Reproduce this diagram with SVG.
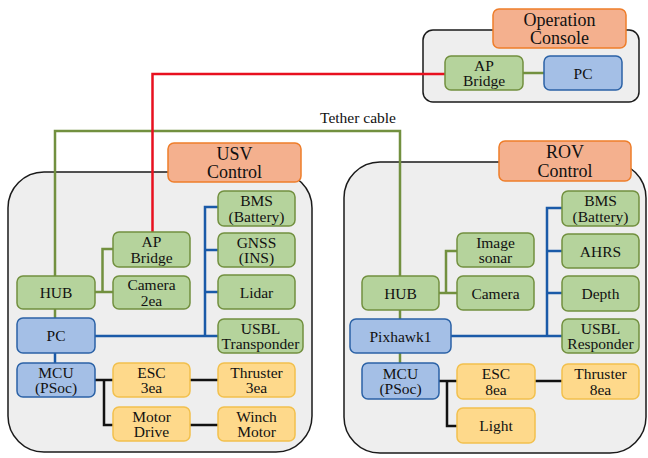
<svg xmlns="http://www.w3.org/2000/svg" width="648" height="458" viewBox="0 0 648 458">
  <style>
    .box { fill: #eeeeee; stroke: #1a1a1a; stroke-width: 1.5; }
    .title { fill: #f4b08e; stroke: #ee7d2a; stroke-width: 1.5; }
    .g { fill: #b5d39c; stroke: #72903f; stroke-width: 1.5; }
    .b { fill: #a4bfe6; stroke: #2b62a6; stroke-width: 1.5; }
    .y { fill: #fed98b; stroke: #f2c04d; stroke-width: 1.5; }
    text { font-family: "Liberation Serif", "Times New Roman", serif; font-size: 15.5px; fill: #111; text-anchor: middle; }
    .tt { font-size: 18px; }
    .cg { fill: none; stroke: #72903f; stroke-width: 2.5; }
    .cb { fill: none; stroke: #1a5aa8; stroke-width: 2.5; }
    .ck { fill: none; stroke: #111; stroke-width: 2.5; }
    .cr { fill: none; stroke: #e8101f; stroke-width: 2.5; }
  </style>

  <!-- containers -->
  <g id="console-area"><rect class="box" x="423" y="30" width="216" height="72" rx="10"/></g>
  <g id="usv-area"><rect class="box" x="8" y="172" width="304" height="280" rx="36"/></g>
  <g id="rov-area"><rect class="box" x="344" y="162" width="302" height="291" rx="36"/></g>

  <!-- connectors -->
  <g id="connectors">
    <!-- tether cable -->
    <polyline class="cg" points="55,276 55,131 400,131 400,276"/>
    <!-- wireless AP link -->
    <polyline class="cr" points="445,74 152.5,74 152.5,232"/>
    <!-- console -->
    <line class="cg" x1="523" y1="73" x2="544" y2="73"/>
    <!-- USV -->
    <line class="cg" x1="55" y1="309" x2="55" y2="318"/>
    <line class="cb" x1="55" y1="353" x2="55" y2="363"/>
    <line class="cg" x1="95" y1="292" x2="113" y2="292"/>
    <polyline class="cg" points="113,249 102.5,249 102.5,292"/>
    <polyline class="cb" points="95,336 218,336"/>
    <polyline class="cb" points="218,207 205,207 205,336"/>
    <line class="cb" x1="205" y1="250" x2="218" y2="250"/>
    <line class="cb" x1="205" y1="292" x2="218" y2="292"/>
    <line class="ck" x1="95" y1="380" x2="113" y2="380"/>
    <polyline class="ck" points="104,380 104,425 113,425"/>
    <line class="ck" x1="190" y1="380" x2="218" y2="380"/>
    <line class="ck" x1="190" y1="425" x2="218" y2="425"/>
    <!-- ROV -->
    <line class="cg" x1="400" y1="310" x2="400" y2="319"/>
    <line class="cg" x1="400" y1="353" x2="400" y2="363"/>
    <line class="cg" x1="439" y1="293" x2="457" y2="293"/>
    <polyline class="cg" points="457,251 446,251 446,293"/>
    <polyline class="cb" points="451,336 562,336"/>
    <polyline class="cb" points="562,208 547,208 547,336"/>
    <line class="cb" x1="547" y1="251" x2="562" y2="251"/>
    <line class="cb" x1="547" y1="293" x2="562" y2="293"/>
    <line class="ck" x1="439" y1="381" x2="457" y2="381"/>
    <polyline class="ck" points="447,381 447,426 457,426"/>
    <line class="ck" x1="535" y1="381" x2="562" y2="381"/>
  </g>

  <text x="358" y="123">Tether cable</text>

  <!-- operation console -->
  <g id="console-title"><rect class="title" x="493" y="9" width="133" height="39" rx="6"/>
    <text class="tt" x="559.5" y="25.8">Operation</text><text class="tt" x="559.5" y="44.3">Console</text></g>
  <g id="console-ap"><rect class="g" x="445" y="56" width="78" height="34" rx="6"/>
    <text x="484" y="70.5">AP</text><text x="484" y="86">Bridge</text></g>
  <g id="console-pc"><rect class="b" x="544" y="56" width="78" height="34" rx="6"/>
    <text x="583" y="78.5">PC</text></g>

  <!-- USV -->
  <g id="usv-title"><rect class="title" x="168" y="143" width="133" height="39" rx="6"/>
    <text class="tt" x="234.5" y="159.8">USV</text><text class="tt" x="234.5" y="178.3">Control</text></g>
  <g id="usv-bms"><rect class="g" x="218" y="191" width="77" height="35" rx="6"/>
    <text x="256.5" y="206">BMS</text><text x="256.5" y="221.5">(Battery)</text></g>
  <g id="usv-gnss"><rect class="g" x="218" y="233" width="77" height="34" rx="6"/>
    <text x="256.5" y="247.5">GNSS</text><text x="256.5" y="263">(INS)</text></g>
  <g id="usv-lidar"><rect class="g" x="218" y="275" width="77" height="34" rx="6"/>
    <text x="256.5" y="297.5">Lidar</text></g>
  <g id="usv-usbl"><rect class="g" x="218" y="319" width="85" height="34" rx="6"/>
    <text x="260.5" y="333.5">USBL</text><text x="260.5" y="349">Transponder</text></g>
  <g id="usv-ap"><rect class="g" x="113" y="232" width="77" height="35" rx="6"/>
    <text x="151.5" y="247">AP</text><text x="151.5" y="262.5">Bridge</text></g>
  <g id="usv-camera"><rect class="g" x="113" y="276" width="77" height="33" rx="6"/>
    <text x="151.5" y="290">Camera</text><text x="151.5" y="305.5">2ea</text></g>
  <g id="usv-hub"><rect class="g" x="17" y="276" width="78" height="33" rx="6"/>
    <text x="56" y="297.5">HUB</text></g>
  <g id="usv-pc"><rect class="b" x="17" y="318" width="78" height="35" rx="6"/>
    <text x="56" y="341">PC</text></g>
  <g id="usv-mcu"><rect class="b" x="17" y="363" width="78" height="34" rx="6"/>
    <text x="56" y="377.5">MCU</text><text x="56" y="393">(PSoc)</text></g>
  <g id="usv-esc"><rect class="y" x="113" y="363" width="77" height="34" rx="6"/>
    <text x="151.5" y="377.5">ESC</text><text x="151.5" y="393">3ea</text></g>
  <g id="usv-thruster"><rect class="y" x="218" y="363" width="77" height="34" rx="6"/>
    <text x="256.5" y="377.5">Thruster</text><text x="256.5" y="393">3ea</text></g>
  <g id="usv-motor-drive"><rect class="y" x="113" y="407" width="77" height="34" rx="6"/>
    <text x="151.5" y="421.5">Motor</text><text x="151.5" y="437">Drive</text></g>
  <g id="usv-winch"><rect class="y" x="218" y="407" width="77" height="34" rx="6"/>
    <text x="256.5" y="421.5">Winch</text><text x="256.5" y="437">Motor</text></g>

  <!-- ROV -->
  <g id="rov-title"><rect class="title" x="499" y="141" width="132" height="40" rx="6"/>
    <text class="tt" x="565" y="158.3">ROV</text><text class="tt" x="565" y="176.8">Control</text></g>
  <g id="rov-bms"><rect class="g" x="562" y="191" width="77" height="35" rx="6"/>
    <text x="600.5" y="206">BMS</text><text x="600.5" y="221.5">(Battery)</text></g>
  <g id="rov-ahrs"><rect class="g" x="562" y="234" width="77" height="34" rx="6"/>
    <text x="600.5" y="256.5">AHRS</text></g>
  <g id="rov-depth"><rect class="g" x="562" y="276" width="77" height="35" rx="6"/>
    <text x="600.5" y="299">Depth</text></g>
  <g id="rov-usbl"><rect class="g" x="562" y="319" width="77" height="34" rx="6"/>
    <text x="600.5" y="333.5">USBL</text><text x="600.5" y="349">Responder</text></g>
  <g id="rov-sonar"><rect class="g" x="457" y="233" width="77" height="34" rx="6"/>
    <text x="495.5" y="247.5">Image</text><text x="495.5" y="263">sonar</text></g>
  <g id="rov-camera"><rect class="g" x="457" y="276" width="77" height="34" rx="6"/>
    <text x="495.5" y="298.5">Camera</text></g>
  <g id="rov-hub"><rect class="g" x="362" y="276" width="77" height="34" rx="6"/>
    <text x="400.5" y="298.5">HUB</text></g>
  <g id="rov-pixhawk"><rect class="b" x="350" y="319" width="101" height="34" rx="6"/>
    <text x="400.5" y="341.5">Pixhawk1</text></g>
  <g id="rov-mcu"><rect class="b" x="362" y="363" width="77" height="36" rx="6"/>
    <text x="400.5" y="378.5">MCU</text><text x="400.5" y="394">(PSoc)</text></g>
  <g id="rov-esc"><rect class="y" x="457" y="364" width="78" height="35" rx="6"/>
    <text x="496" y="379">ESC</text><text x="496" y="394.5">8ea</text></g>
  <g id="rov-thruster"><rect class="y" x="562" y="364" width="77" height="35" rx="6"/>
    <text x="600.5" y="379">Thruster</text><text x="600.5" y="394.5">8ea</text></g>
  <g id="rov-light"><rect class="y" x="457" y="408" width="78" height="35" rx="6"/>
    <text x="496" y="431">Light</text></g>
</svg>
